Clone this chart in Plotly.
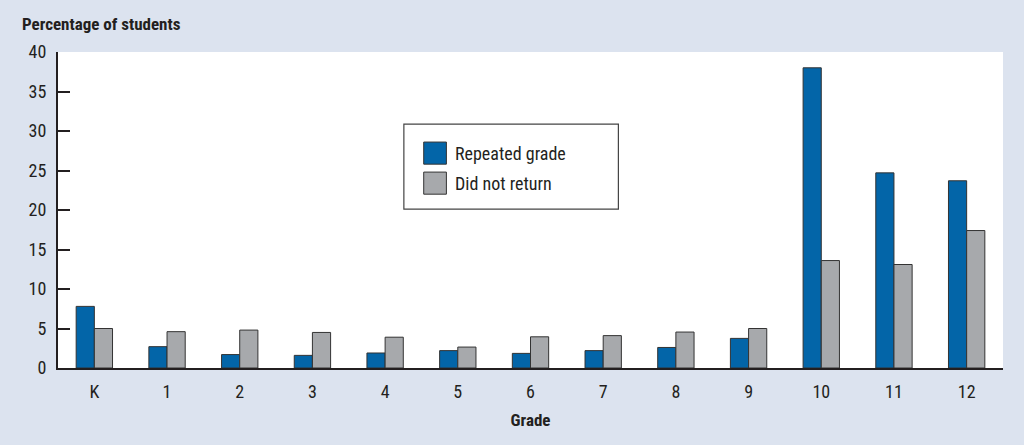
import plotly.graph_objects as go

# Grades and percentages
grades = ["K", "1", "2", "3", "4", "5", "6", "7", "8", "9", "10", "11", "12"]
repeated_grade = [7.8, 2.7, 1.7, 1.6, 1.9, 2.2, 1.85, 2.2, 2.6, 3.75, 38.0, 24.7, 23.7]
did_not_return = [5.0, 4.6, 4.8, 4.5, 3.9, 2.65, 3.95, 4.1, 4.55, 5.0, 13.6, 13.1, 17.4]
series_names = ["Repeated grade", "Did not return"]
y_ticks = [0, 5, 10, 15, 20, 25, 30, 35, 40]

blue = "#0365a8"
grey = "#a7a9ac"
outline = "#333333"
ink = "#231f20"
font_name = "Roboto Condensed, sans-serif"

fig = go.Figure()
fig.add_trace(go.Bar(x=grades, y=repeated_grade, name=series_names[0],
                     marker=dict(color=blue, line=dict(color=outline, width=1))))
fig.add_trace(go.Bar(x=grades, y=did_not_return, name=series_names[1],
                     marker=dict(color=grey, line=dict(color=outline, width=1))))

# hand-made legend box, the built-in swatches are too small
fig.add_shape(type="rect", xref="paper", yref="paper",
              x0=0.366, x1=0.593, y0=0.503, y1=0.772,
              line=dict(color="#444444", width=1.2), fillcolor="white")
for i, (name, col) in enumerate(zip(series_names, [blue, grey])):
    yc = 0.680 - i * 0.095
    fig.add_shape(type="rect", xref="paper", yref="paper",
                  x0=0.387, x1=0.411, y0=yc - 0.035, y1=yc + 0.035,
                  line=dict(color=outline, width=1), fillcolor=col)
    fig.add_annotation(x=0.418, y=yc, xref="paper", yref="paper", text=name,
                       showarrow=False, xanchor="left", yanchor="middle",
                       font=dict(size=18, color=ink))

fig.update_layout(
    width=1024, height=445,
    paper_bgcolor="#dce3ef", plot_bgcolor="white",
    font=dict(family=font_name, size=18, color=ink),
    barmode="group", bargap=0.5, bargroupgap=0,
    showlegend=False,
    margin=dict(l=58, r=21, t=52, b=77),
)
fig.update_yaxes(range=[0, 40], tickvals=y_ticks, ticks="inside", ticklen=12,
                 tickwidth=2, tickcolor=ink, showline=True, linewidth=2,
                 linecolor=ink, showgrid=False, zeroline=False,
                 ticklabelstandoff=6)
fig.update_xaxes(showline=True, linewidth=2, linecolor=ink, ticks="",
                 showgrid=False, ticklabelstandoff=6,
                 title=dict(text="<b>Grade</b>", font=dict(size=17), standoff=14))

fig.add_annotation(x=-0.0402, y=1.089, xref="paper", yref="paper",
                   text="<b>Percentage of students</b>", showarrow=False,
                   xanchor="left", yanchor="middle", font=dict(size=17))

fig.write_html("out.html", config={"displayModeBar": False},
               post_script="document.body.style.margin='0';")
